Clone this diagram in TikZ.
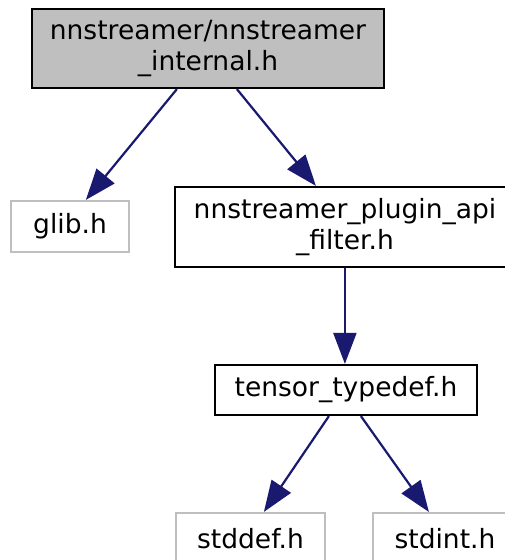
\documentclass[tikz,border=0pt]{standalone}
\usepackage{fontspec}
\setmainfont{DejaVu Sans}
\usetikzlibrary{arrows.meta,calc}
\definecolor{edgeblue}{RGB}{25,25,112}
\definecolor{boxgray}{RGB}{191,191,191}
\tikzset{
  filebox/.style={draw=black, line width=2.2pt, rectangle, inner sep=0pt, align=center},
  mainbox/.style={filebox, fill=boxgray},
  extbox/.style={filebox, draw=boxgray},
  edge/.style={draw=edgeblue, line width=2.2pt, -{Triangle[length=31pt,width=23pt]}}
}
\begin{document}
\begin{tikzpicture}[x=1pt,y=-1pt,font=\fontsize{26.5}{31}\selectfont]
\useasboundingbox (0,0) rectangle (505,560);
\clip (0,0) rectangle (505,560);
\node[mainbox, minimum width=352pt, minimum height=79pt] (n1) at (208,48.5) {nnstreamer/nnstreamer\\\_internal.h};
\node[extbox, minimum width=118pt, minimum height=51pt] (glib) at (70,226.5) {glib.h};
\node[filebox, minimum width=340pt, minimum height=80pt] (plugin) at (345,227) {nnstreamer\_plugin\_api\\\_filter.h};
\node[filebox, minimum width=262pt, minimum height=50pt] (tensor) at (346,390) {tensor\_typedef.h};
\node[extbox, minimum width=149pt, minimum height=51pt] (stddef) at (250.5,538.5) {stddef.h};
\node[extbox, minimum width=144pt, minimum height=51pt] (stdint) at (445,538.5) {stdint.h};
\draw[edge] ($(n1.south west)+(146,0)$) -- ($(glib.north west)+(76,0)$);
\draw[edge] ($(n1.south west)+(206,0)$) -- ($(plugin.north west)+(142,0)$);
\draw[edge] ($(plugin.south west)+(171,0)$) -- ($(tensor.north west)+(131,0)$);
\draw[edge] ($(tensor.south west)+(115,0)$) -- ($(stddef.north west)+(89,0)$);
\draw[edge] ($(tensor.south west)+(147,0)$) -- ($(stdint.north west)+(57,0)$);
\end{tikzpicture}
\end{document}
